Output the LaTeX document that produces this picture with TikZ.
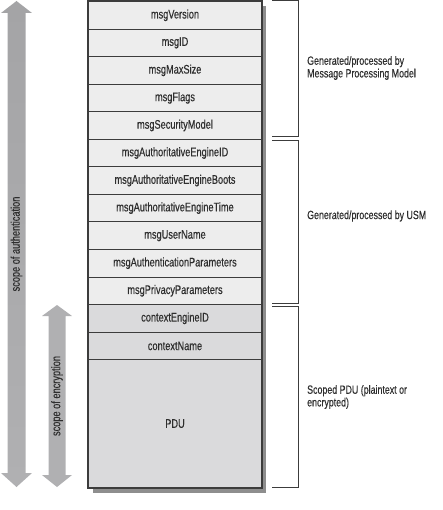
\documentclass[tikz,border=0pt]{standalone}
\usepackage{fontspec}
\setmainfont[FakeStretch=0.74,FakeBold=0.3]{Liberation Sans}
\definecolor{linec}{HTML}{3C3C3C}
\definecolor{upfill}{HTML}{EDEDED}
\definecolor{lowfill}{HTML}{DADADC}
\definecolor{txt}{HTML}{2E2E2E}
\definecolor{shadowc}{HTML}{8E8E8E}
\definecolor{arrdark}{HTML}{A4A4A6}
\definecolor{arrlight}{HTML}{E6E6E8}
\definecolor{arrbot}{HTML}{B0B0B2}
\begin{document}
\begin{tikzpicture}[x=1bp,y=-1bp,
  font=\fontsize{12.5}{12.7}\selectfont,
  fieldrow/.style={draw=linec, line width=1bp, minimum width=173bp, minimum height=27.55bp,
    inner sep=0pt, anchor=north west, text=txt},
  upperrow/.style={fieldrow, fill=upfill},
  lowerrow/.style={fieldrow, fill=lowfill},
  brack/.style={draw=linec, line width=1bp},
  sidelabel/.style={anchor=west, align=left, text=txt, inner sep=0pt,
    font=\fontsize{12}{12.7}\selectfont},
  scopelabel/.style={rotate=90, text=txt, inner sep=0pt}]
\useasboundingbox (0,0) rectangle (443,510);

% scope arrows
\shade[top color=arrdark, middle color=arrlight, bottom color=arrbot]
  (16.5,1) -- (32,13) -- (25.5,13) -- (25.5,473) -- (32,473) -- (16.5,487)
  -- (1,473) -- (7.5,473) -- (7.5,13) -- (1,13) -- cycle;
\shade[top color=arrbot, middle color=arrlight, bottom color=arrbot]
  (57,305) -- (72,316) -- (65.5,316) -- (65.5,475) -- (72,475) -- (57,487)
  -- (42,475) -- (48.5,475) -- (48.5,316) -- (42,316) -- cycle;
\node[scopelabel] (authl) at (16.5,244) {scope of authentication};
\node[scopelabel] (encl) at (57,396) {scope of encryption};

% shadow
\fill[shadowc] (93,6) rectangle (266,493);

% rows
\foreach \t [count=\i from 0] in {msgVersion,msgID,msgMaxSize,msgFlags,msgSecurityModel,
  msgAuthoritativeEngineID,msgAuthoritativeEngineBoots,msgAuthoritativeEngineTime,
  msgUserName,msgAuthenticationParameters,msgPrivacyParameters}
  \node[upperrow] (r\i) at (88,{1+27.55*\i}) {\t};
\node[lowerrow] (r11) at (88,{1+27.55*11}) {contextEngineID};
\node[lowerrow] (r12) at (88,{1+27.55*12}) {contextName};
\node[lowerrow, minimum height=127.85bp] (r13) at (88,{1+27.55*13}) {PDU};
\draw[linec, line width=1.2bp] (r0.north west) rectangle (r13.south east);

% brackets
\coordinate (b1a) at (272,1);   \coordinate (b1b) at (298,1);
\coordinate (b1c) at (298,137); \coordinate (b1d) at (272,137);
\coordinate (b2a) at (272,141); \coordinate (b2b) at (298,141);
\coordinate (b2c) at (298,303); \coordinate (b2d) at (272,303);
\coordinate (b3a) at (272,306); \coordinate (b3b) at (298,306);
\coordinate (b3c) at (298,487); \coordinate (b3d) at (272,487);
\draw[brack] (b1a) -- (b1b) -- (b1c) -- (b1d);
\draw[brack] (b2a) -- (b2b) -- (b2c) -- (b2d);
\draw[brack] (b3a) -- (b3b) -- (b3c) -- (b3d);

\node[sidelabel] (l1) at (307,68) {Generated/processed by\\Message Processing Model};
\node[sidelabel] (l2) at (307,216) {Generated/processed by USM};
\node[sidelabel] (l3) at (307,397) {Scoped PDU (plaintext or\\encrypted)};
\end{tikzpicture}
\end{document}
